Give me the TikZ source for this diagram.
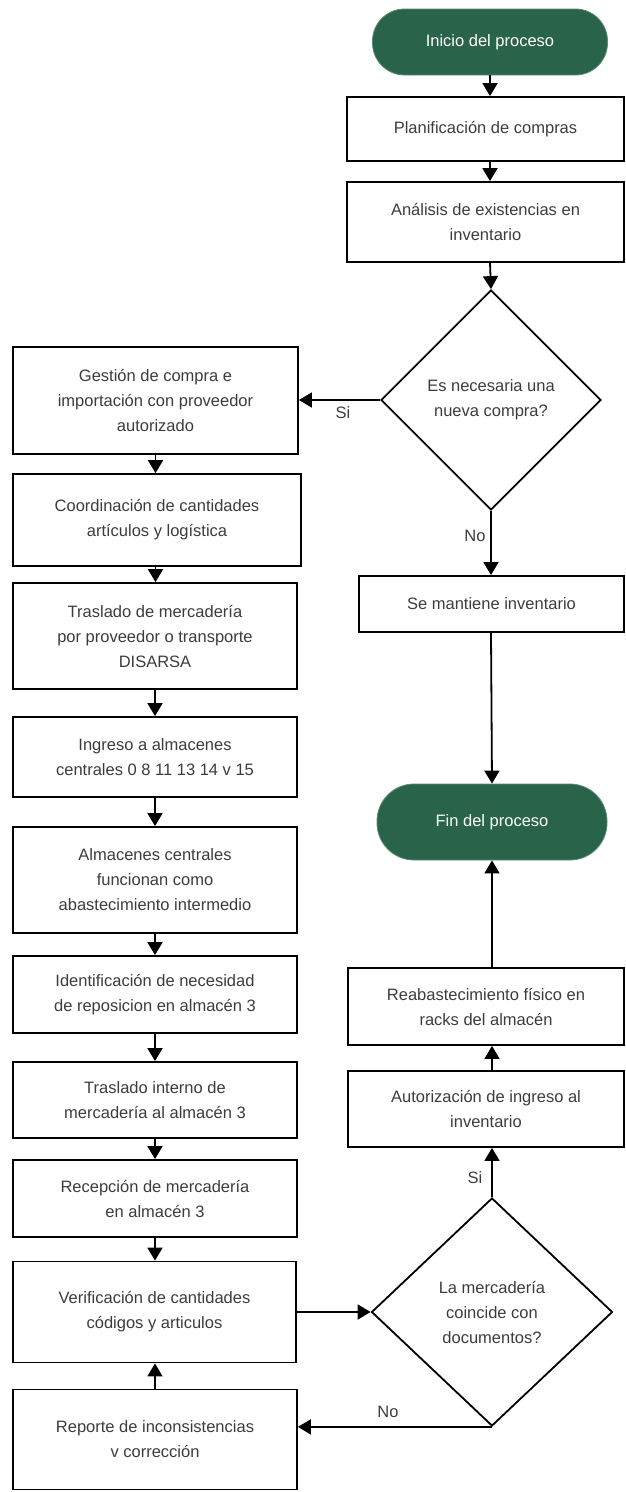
\documentclass[tikz,border=0pt]{standalone}
\usepackage{fontspec}
\setmainfont{Liberation Sans}
\usetikzlibrary{shapes.geometric,arrows.meta}
\definecolor{procgreen}{HTML}{29634A}
\definecolor{txtgrey}{HTML}{3C3C3C}

\begin{document}
\begin{tikzpicture}[x=1pt,y=-1pt,
  every node/.style={font=\fontsize{16.5}{25}\selectfont, text=txtgrey},
  stepbox/.style={draw, line width=1.8pt, align=center, inner sep=0pt},
  term/.style={fill=procgreen, draw=procgreen!75!white, line width=0.8pt, text=white, inner sep=0pt},
  decision/.style={diamond, draw, line width=1.8pt, align=center, inner sep=0pt},
  flow/.style={line width=1.8pt, -{Triangle[length=13pt,width=15pt]}},
  lbl/.style={inner sep=0pt}]

\useasboundingbox (0,0) rectangle (626,1492);

% right column: main path
\node[term, rounded corners=32pt, minimum width=235pt, minimum height=66pt] (start) at (490,42) {Inicio del proceso};
\node[stepbox, minimum width=277pt, minimum height=64pt] (plan) at (485.5,129) {Planificación de compras};
\node[stepbox, minimum width=277pt, minimum height=80pt] (anal) at (485.5,222) {Análisis de existencias en\\inventario};
\node[decision, minimum width=220pt, minimum height=220pt] (dec1) at (491,400) {Es necesaria una\\nueva compra?};
\node[stepbox, minimum width=265pt, minimum height=56pt] (mant) at (491.5,604) {Se mantiene inventario};
\node[term, rounded corners=37pt, minimum width=230pt, minimum height=76pt] (fin) at (492,822) {Fin del proceso};
\node[stepbox, minimum width=276pt, minimum height=77pt] (reab) at (486,1006.5) {Reabastecimiento físico en\\racks del almacén};
\node[stepbox, minimum width=276pt, minimum height=76pt] (auto) at (486,1109) {Autorización de ingreso al\\inventario};
\node[decision, minimum width=241pt, minimum height=228pt] (dec2) at (492,1312) {La mercadería\\coincide con\\documentos?};

% left column: purchase and replenishment steps
\node[stepbox, minimum width=285pt, minimum height=107pt] (gest) at (155.5,400.5) {Gestión de compra e\\importación con proveedor\\autorizado};
\node[stepbox, minimum width=288pt, minimum height=92pt] (coord) at (157,520) {Coordinación de cantidades\\artículos y logística};
\node[stepbox, minimum width=284pt, minimum height=106pt] (tras) at (155,636) {Traslado de mercadería\\por proveedor o transporte\\DISARSA};
\node[stepbox, minimum width=284pt, minimum height=80pt] (ingr) at (155,757) {Ingreso a almacenes\\centrales 0 8 11 13 14 v 15};
\node[stepbox, minimum width=284pt, minimum height=106pt] (alm) at (155,880) {Almacenes centrales\\funcionan como\\abastecimiento intermedio};
\node[stepbox, minimum width=284pt, minimum height=77pt] (iden) at (155,994.5) {Identificación de necesidad\\de reposicion en almacén 3};
\node[stepbox, minimum width=284pt, minimum height=76pt] (trint) at (155,1100) {Traslado interno de\\mercadería al almacén 3};
\node[stepbox, minimum width=284pt, minimum height=77pt] (recep) at (155,1198.5) {Recepción de mercadería\\en almacén 3};
\node[stepbox, minimum width=283pt, minimum height=101pt] (verif) at (154.5,1312) {Verificación de cantidades\\códigos y articulos};
\node[stepbox, minimum width=284pt, minimum height=100pt] (rep) at (155,1439.5) {Reporte de inconsistencias\\v corrección};

% branch labels
\node[lbl] (si1) at (343,413) {Si};
\node[lbl] (no1) at (475,536) {No};
\node[lbl] (si2) at (475,1178) {Si};
\node[lbl] (no2) at (388,1412) {No};

% connectors, right column
\draw[flow] (start.south) -- (start.south |- plan.north);
\draw[flow] (start.south |- plan.south) -- (start.south |- anal.north);
\draw[flow] (start.south |- anal.south) -- (dec1.north);
\draw[flow] (dec1.west) -- (dec1.west -| gest.east);
\draw[flow] (dec1.south) -- (dec1.south |- mant.north);
\draw[flow] (dec1.south |- mant.south) -- (fin.north);
\draw[flow] (fin.south |- reab.north) -- (fin.south);
\draw[flow] (fin.south |- auto.north) -- (fin.south |- reab.south);
\draw[flow] (dec2.north) -- (dec2.north |- auto.south);

% connectors, left column
\draw[flow] (gest.south) -- (gest.south |- coord.north);
\draw[flow] (gest.south |- coord.south) -- (gest.south |- tras.north);
\draw[flow] (tras.south) -- (tras.south |- ingr.north);
\draw[flow] (ingr.south) -- (alm.north);
\draw[flow] (alm.south) -- (iden.north);
\draw[flow] (iden.south) -- (trint.north);
\draw[flow] (trint.south) -- (recep.north);
\draw[flow] (recep.south) -- (recep.south |- verif.north);
\draw[flow] (rep.north) -- (rep.north |- verif.south);
\draw[flow] (verif.east) -- (dec2.west);
\draw[flow] (dec2.south) -- (dec2.south -| rep.east);
\end{tikzpicture}
\end{document}
